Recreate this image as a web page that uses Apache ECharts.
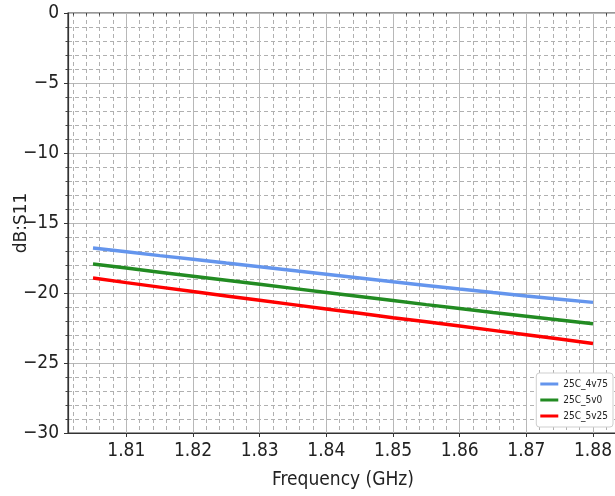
<!DOCTYPE html>
<html>
<head>
<meta charset="utf-8">
<script src="https://cdn.jsdelivr.net/npm/echarts@6/dist/echarts.min.js"></script>
<style>
  html, body { margin: 0; padding: 0; background: #fff; }
  #chart { width: 615px; height: 496px; }
</style>
</head>
<body>
<div id="chart"></div>
<script>
// Frequency sweep points (GHz)
const freq = [1.805, 1.810, 1.815, 1.820, 1.825, 1.830, 1.835, 1.840,
              1.845, 1.850, 1.855, 1.860, 1.865, 1.870, 1.875, 1.880];

// S11 return loss (dB) for each supply condition
const s11_4v75 = [-16.79, -17.06, -17.33, -17.59, -17.86, -18.12, -18.39, -18.66,
                  -18.93, -19.20, -19.46, -19.72, -19.97, -20.21, -20.44, -20.67];
const s11_5v0  = [-17.93, -18.22, -18.51, -18.80, -19.09, -19.38, -19.67, -19.96,
                  -20.25, -20.54, -20.83, -21.11, -21.39, -21.66, -21.93, -22.20];
const s11_5v25 = [-18.93, -19.26, -19.58, -19.90, -20.21, -20.52, -20.83, -21.14,
                  -21.45, -21.76, -22.06, -22.36, -22.67, -22.98, -23.29, -23.60];

const seriesNames = ['25C_4v75', '25C_5v0', '25C_5v25'];

// Axis tick positions
const xMajorTicks = [1.81, 1.82, 1.83, 1.84, 1.85, 1.86, 1.87, 1.88];
const xMinorTicks = [1.802, 1.804, 1.806, 1.808, 1.812, 1.814, 1.816, 1.818,
                     1.822, 1.824, 1.826, 1.828, 1.832, 1.834, 1.836, 1.838,
                     1.842, 1.844, 1.846, 1.848, 1.852, 1.854, 1.856, 1.858,
                     1.862, 1.864, 1.866, 1.868, 1.872, 1.874, 1.876, 1.878, 1.882];
const xRange = [1.80125, 1.88375];
const yRange = [-30, 0];

const FONT = "'Liberation Sans Narrow', 'DejaVu Sans Condensed', 'DejaVu Sans', sans-serif";
const pairs = (ys) => freq.map((f, i) => [f, ys[i]]);

const chart = echarts.init(document.getElementById('chart'), null, { renderer: 'canvas' });
chart.setOption({
  animation: false,
  backgroundColor: '#fff',
  grid: {
    left: 68, top: 13, width: 550, height: 420,
    outerBoundsMode: 'none',
    containLabel: false,
    show: true, borderColor: '#333', borderWidth: 1.2, backgroundColor: 'transparent'
  },
  legend: {
    data: seriesNames,
    orient: 'vertical',
    right: 2, top: 373,
    icon: 'rect',
    itemWidth: 18, itemHeight: 3,
    itemGap: 4,
    padding: [5, 5, 5, 4],
    backgroundColor: '#fff',
    borderColor: '#cfcfcf', borderWidth: 1, borderRadius: 3,
    textStyle: { fontFamily: FONT, fontSize: 10, color: '#222', lineHeight: 12 }
  },
  xAxis: [
    {
      type: 'value',
      min: xRange[0], max: xRange[1],
      position: 'bottom',
      name: 'Frequency (GHz)',
      nameLocation: 'middle',
      nameMoveOverlap: false,
      nameGap: 38,
      nameTextStyle: { fontFamily: FONT, fontSize: 19, color: '#222' },
      axisLine: { show: true, onZero: false, lineStyle: { color: '#333', width: 1.2 } },
      axisTick: { show: true, inside: false, length: 4, customValues: xMajorTicks,
                  lineStyle: { color: '#333' } },
      axisLabel: { show: true, margin: 9, customValues: xMajorTicks,
                   fontFamily: FONT, fontSize: 19, color: '#222',
                   formatter: (v) => v.toFixed(2) },
      splitLine: { show: true, lineStyle: { color: '#b8b8b8', width: 1 } }
    },
    {
      type: 'value',
      min: xRange[0], max: xRange[1],
      position: 'bottom',
      axisLine: { show: false },
      axisTick: { show: true, inside: false, length: 2.5, customValues: xMinorTicks,
                  lineStyle: { color: '#444' } },
      axisLabel: { show: false, customValues: xMinorTicks },
      splitLine: { show: true, lineStyle: { color: '#b0b0b0', width: 1, type: [4, 3] } }
    }
  ],
  yAxis: {
    type: 'value',
    min: yRange[0], max: yRange[1], interval: 5,
    name: 'dB:S11',
    nameLocation: 'middle',
    nameMoveOverlap: false,
    nameGap: 38,
    nameTextStyle: { fontFamily: "'DejaVu Sans', sans-serif", fontSize: 17, color: '#222' },
    axisLine: { show: true, onZero: false, lineStyle: { color: '#333', width: 1.2 } },
    axisTick: { show: true, inside: false, length: 4, lineStyle: { color: '#333' } },
    minorTick: { show: true, splitNumber: 5, length: 2.5, lineStyle: { color: '#444' } },
    axisLabel: { margin: 9, fontFamily: FONT, fontSize: 19, color: '#222',
                 formatter: (v) => (v < 0 ? '\u2212' + Math.abs(v) : String(v)) },
    splitLine: { show: true, lineStyle: { color: '#b8b8b8', width: 1 } },
    minorSplitLine: { show: true, lineStyle: { color: '#b0b0b0', width: 1, type: [4, 3] } }
  },
  series: [
    { name: seriesNames[0], type: 'line', data: pairs(s11_4v75), showSymbol: false, symbol: 'none',
      lineStyle: { color: '#6495ED', width: 3.5 }, itemStyle: { color: '#6495ED' }, z: 3 },
    { name: seriesNames[1], type: 'line', data: pairs(s11_5v0), showSymbol: false, symbol: 'none',
      lineStyle: { color: '#228B22', width: 3.5 }, itemStyle: { color: '#228B22' }, z: 3 },
    { name: seriesNames[2], type: 'line', data: pairs(s11_5v25), showSymbol: false, symbol: 'none',
      lineStyle: { color: '#FF0000', width: 3.5 }, itemStyle: { color: '#FF0000' }, z: 3 }
  ]
});
</script>
</body>
</html>
